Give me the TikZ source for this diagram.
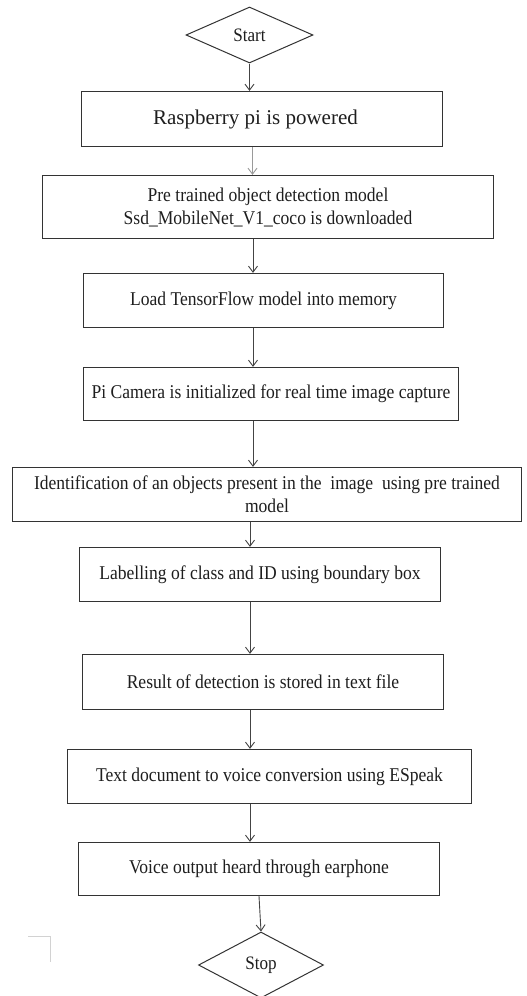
\documentclass[tikz,border=0pt]{standalone}
\usepackage{fontspec}
\setmainfont{Liberation Serif}[FakeStretch=0.9]
\newfontfamily\plainserif{Liberation Serif}
\usetikzlibrary{shapes.geometric,arrows.meta}
\definecolor{edge}{HTML}{333333}
\definecolor{arrowc}{HTML}{444444}
\definecolor{lightarrow}{HTML}{9A9A9A}
\definecolor{txt}{HTML}{1E1E1E}
\tikzset{
  stepbox/.style={draw=edge, line width=1.2pt, rectangle, inner sep=0pt, align=center,
    text=txt, font=\fontsize{19.5}{23}\selectfont},
  decision/.style={draw=edge, line width=1pt, diamond, inner sep=0pt,
    text=txt, font=\fontsize{19}{21}\selectfont},
  arr/.style={draw=arrowc, line width=0.9pt, -{Straight Barb[length=6pt,width=9pt]}},
}
\begin{document}
\begin{tikzpicture}[x=1pt,y=1pt]
\useasboundingbox (0,0) rectangle (527,-996);
\fill[white] (0,0) rectangle (527,-996);

\node[decision, minimum width=127pt, minimum height=56pt] (start) at (249.5,-35) {Start};
\node[stepbox, minimum width=361pt, minimum height=55pt, font=\plainserif\fontsize{21}{25}\selectfont] (b1) at (262,-119) {\hspace{-13pt}Raspberry pi is powered};
\node[stepbox, minimum width=451pt, minimum height=63pt] (b2) at (268,-207) {Pre trained object detection model\\Ssd\_MobileNet\_V1\_coco is downloaded};
\node[stepbox, minimum width=360pt, minimum height=54pt] (b3) at (263.5,-300.5) {Load TensorFlow model into memory};
\node[stepbox, minimum width=375pt, minimum height=53pt] (b4) at (271,-394) {Pi Camera is initialized for real time image capture};
\node[stepbox, minimum width=509pt, minimum height=54pt] (b5) at (267,-494.5) {Identification of an objects present in the\ \ image\ \ using pre trained\\model};
\node[stepbox, minimum width=361pt, minimum height=54pt] (b6) at (260,-574.5) {Labelling of class and ID using boundary box};
\node[stepbox, minimum width=361pt, minimum height=55pt] (b7) at (263,-682) {Result of detection is stored in text file};
\node[stepbox, minimum width=404pt, minimum height=54pt] (b8) at (269.5,-776.5) {Text document to voice conversion using ESpeak};
\node[stepbox, minimum width=361pt, minimum height=53pt] (b9) at (259,-869) {Voice output heard through earphone};
\node[decision, minimum width=125pt, minimum height=66pt] (stop) at (261,-965) {Stop};

\coordinate (xa) at (249.5,0);
\coordinate (xb) at (252.5,0);
\coordinate (xc) at (253,0);
\coordinate (xd) at (250,0);

\draw[arr] (start.south) -- (b1.north -| xa);
\draw[arr, draw=lightarrow] (b1.south -| xb) -- (b2.north -| xb);
\draw[arr] (b2.south -| xc) -- (b3.north -| xc);
\draw[arr] (b3.south -| xc) -- (b4.north -| xc);
\draw[arr] (b4.south -| xc) -- (b5.north -| xc);
\draw[arr] (b5.south -| xd) -- (b6.north -| xd);
\draw[arr] (b6.south -| xd) -- (b7.north -| xd);
\draw[arr] (b7.south -| xd) -- (b8.north -| xd);
\draw[arr] (b8.south -| xd) -- (b9.north -| xd);
\draw[arr] (b9.south) -- (stop.north);

\draw[gray!35, line width=0.8pt] (28,-936) -- (50,-936) -- (50,-962);
\end{tikzpicture}
\end{document}
